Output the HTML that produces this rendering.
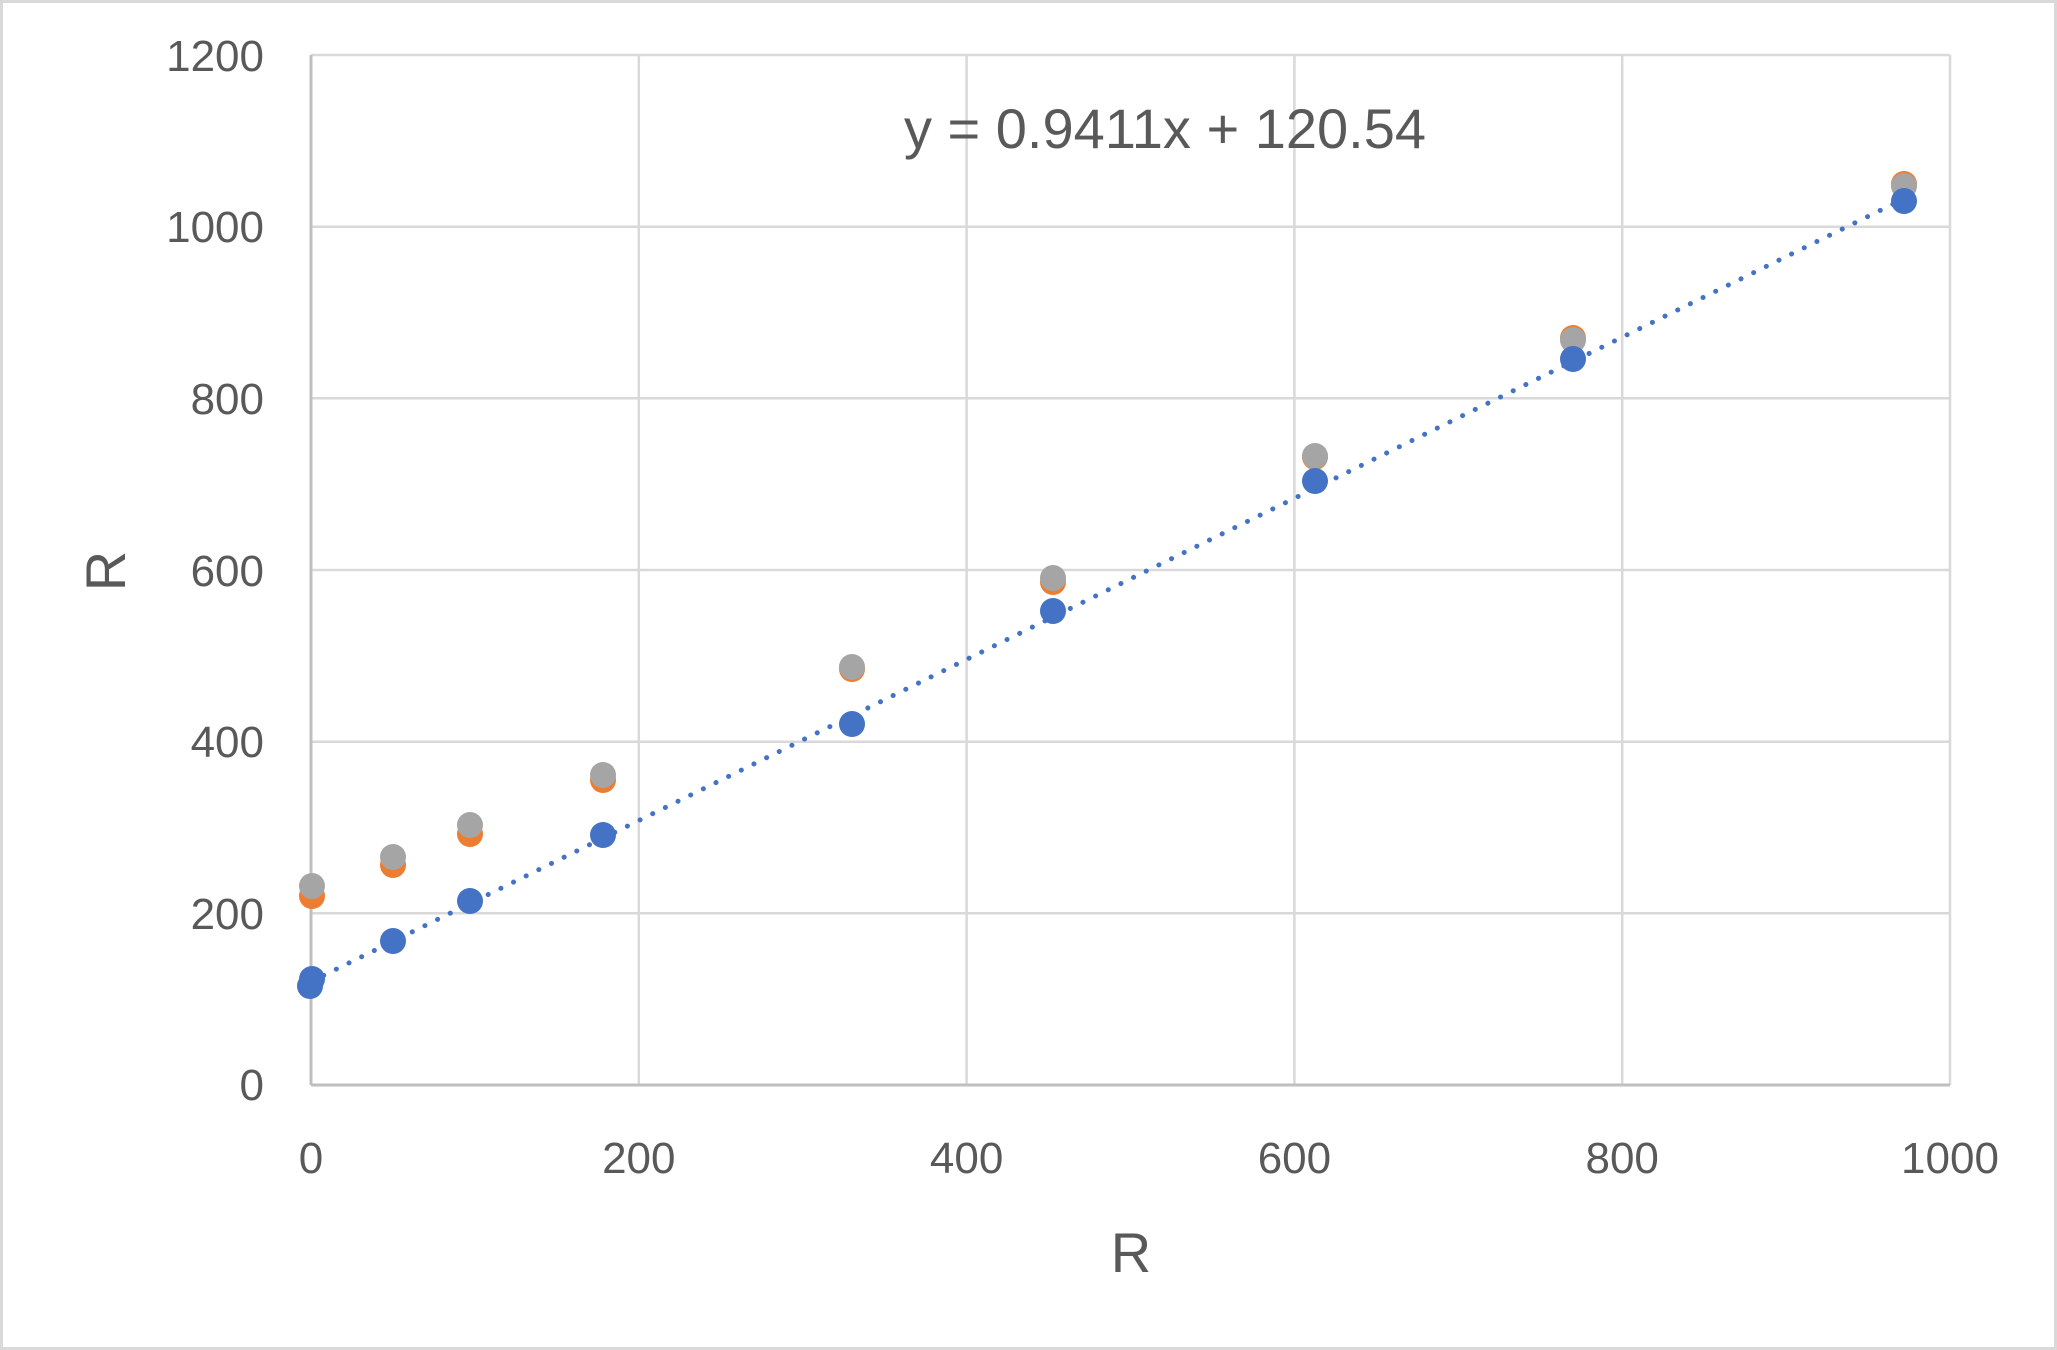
<!DOCTYPE html>
<html><head><meta charset="utf-8"><style>html,body{margin:0;padding:0;background:#fff}svg{display:block}</style></head>
<body>
<svg width="2057" height="1350" viewBox="0 0 2057 1350" xmlns="http://www.w3.org/2000/svg" font-family="Liberation Sans, sans-serif">
<rect x="1.5" y="1.5" width="2054" height="1347" fill="#fff" stroke="#d9d9d9" stroke-width="3"/>
<g stroke="#d9d9d9" stroke-width="2.5">
<line x1="311" y1="55" x2="1950" y2="55"/>
<line x1="311" y1="226.7" x2="1950" y2="226.7"/>
<line x1="311" y1="398.3" x2="1950" y2="398.3"/>
<line x1="311" y1="570" x2="1950" y2="570"/>
<line x1="311" y1="741.7" x2="1950" y2="741.7"/>
<line x1="311" y1="913.3" x2="1950" y2="913.3"/>
<line x1="638.8" y1="55" x2="638.8" y2="1085"/>
<line x1="966.6" y1="55" x2="966.6" y2="1085"/>
<line x1="1294.4" y1="55" x2="1294.4" y2="1085"/>
<line x1="1622.2" y1="55" x2="1622.2" y2="1085"/>
<line x1="1950" y1="55" x2="1950" y2="1085"/>
</g>
<g stroke="#bfbfbf" stroke-width="3"><line x1="311" y1="55" x2="311" y2="1085"/><line x1="311" y1="1085" x2="1950" y2="1085"/></g>
<g fill="#595959" font-size="44" text-anchor="end">
<text x="264" y="71">1200</text><text x="264" y="242">1000</text><text x="264" y="414">800</text>
<text x="264" y="586">600</text><text x="264" y="757">400</text><text x="264" y="929">200</text><text x="264" y="1100">0</text>
</g>
<g fill="#595959" font-size="44" text-anchor="middle">
<text x="311" y="1173">0</text><text x="638.8" y="1173">200</text><text x="966.6" y="1173">400</text>
<text x="1294.4" y="1173">600</text><text x="1622.2" y="1173">800</text><text x="1950" y="1173">1000</text>
</g>
<text x="1131" y="1272" fill="#595959" font-size="56" text-anchor="middle">R</text>
<text transform="translate(125,571) rotate(-90)" fill="#595959" font-size="56" text-anchor="middle">R</text>
<text x="1165" y="148" fill="#595959" font-size="56" text-anchor="middle">y = 0.9411x + 120.54</text>
<line x1="311" y1="981.6" x2="1904" y2="198.7" stroke="#4472c4" stroke-width="5" stroke-linecap="round" stroke-dasharray="0.1 14"/>
<g fill="#ed7d31">
<circle cx="312" cy="896" r="13"/><circle cx="393" cy="865" r="13"/><circle cx="470" cy="834" r="13"/><circle cx="603" cy="780" r="13"/><circle cx="852" cy="669" r="13"/><circle cx="1053" cy="582" r="13"/><circle cx="1315" cy="457" r="13"/><circle cx="1573" cy="338" r="13"/><circle cx="1904" cy="184" r="13"/>
</g>
<g fill="#a5a5a5">
<circle cx="312" cy="886" r="13"/><circle cx="393" cy="857" r="13"/><circle cx="470" cy="825" r="13"/><circle cx="603" cy="775" r="13"/><circle cx="852" cy="667" r="13"/><circle cx="1053" cy="578" r="13"/><circle cx="1315" cy="456" r="13"/><circle cx="1573" cy="340" r="13"/><circle cx="1904" cy="186" r="13"/>
</g>
<g fill="#4472c4">
<circle cx="312" cy="979" r="13"/><circle cx="310" cy="986" r="13"/><circle cx="393" cy="941" r="13"/><circle cx="470" cy="901" r="13"/><circle cx="603" cy="835" r="13"/><circle cx="852" cy="724" r="13"/><circle cx="1053" cy="611" r="13"/><circle cx="1315" cy="481" r="13"/><circle cx="1573" cy="359" r="13"/><circle cx="1904" cy="201" r="13"/>
</g>
</svg>
</body></html>
